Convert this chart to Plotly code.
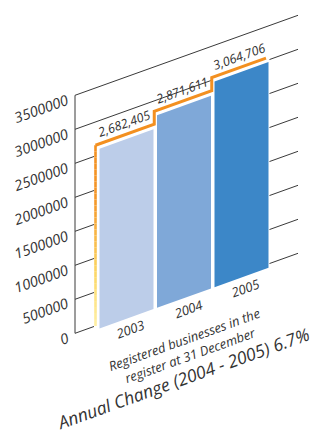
import plotly.graph_objects as go

# ---------------- data ----------------
years = ["2003", "2004", "2005"]
businesses = [2682405, 2871611, 3064706]
value_labels = ["2,682,405", "2,871,611", "3,064,706"]
tick_values = [0, 500000, 1000000, 1500000, 2000000, 2500000, 3000000, 3500000]
tick_labels = ["0", "500000", "1000000", "1500000", "2000000", "2500000", "3000000", "3500000"]
bar_colors = ["#bccde9", "#7fa8d8", "#3c87c8"]
subtitle = "Registered businesses in the<br>register at 31 December"
title = "Annual Change (2004 - 2005) 6.7%"

# ---------------- geometry / style ----------------
W, H = 327, 434
PX_PER_UNIT = 68 / 1e6          # vertical pixels per business
AXIS_X = 75                     # x of value axis
ZERO_Y = 333.3                  # screen y of 0 at the axis
SLOPE = 0.3587                  # skew of the pseudo-3D plane
SHEAR = SLOPE / PX_PER_UNIT
ANGLE = -19.8
GRID_END = 298
BAR_X0, BAR_STEP, BAR_W = 99.5, 57.5, 54
BASE = -0.057e6
TOP_OFF = -0.097e6
ORANGE_OFF = -0.025e6
ORANGE = "#f39020"
TXT = "#333333"
FONT = "Open Sans"


def sy(v, x):
    return v + SHEAR * (x - AXIS_X)


fig = go.Figure()

# gridlines
gx, gy = [], []
for t in tick_values:
    gx += [AXIS_X, GRID_END, None]
    gy += [sy(t, AXIS_X), sy(t, GRID_END), None]
fig.add_trace(go.Scatter(x=gx, y=gy, mode="lines", line=dict(color="#3a3a3a", width=1), hoverinfo="skip"))
# axis line
fig.add_trace(go.Scatter(x=[AXIS_X, AXIS_X], y=[tick_values[0], tick_values[-1]], mode="lines",
                         line=dict(color="#3a3a3a", width=1), hoverinfo="skip"))

# bar positions
xl = [BAR_X0 + i * BAR_STEP for i in range(len(years))]
xr = [x + BAR_W for x in xl]
ox0 = xl[0] - 4
steps = [(xr[i] + xl[i + 1]) / 2 - 1 for i in range(len(years) - 1)]
oend = xr[-1] - 2.5
tops = [v + ORANGE_OFF for v in businesses]

# white backing (hides gridlines behind the block)
bx = [ox0 - 1.5, steps[0], steps[0], steps[1], steps[1], xr[-1] + 1, xr[-1] + 1, ox0 - 1.5]
bv = [tops[0], tops[0], tops[1], tops[1], tops[2], tops[2], BASE, BASE]
bv = [v + (0.03e6 if i < 6 else 0) for i, v in enumerate(bv)]
fig.add_trace(go.Scatter(x=bx, y=[sy(v, x) for v, x in zip(bv, bx)], fill="toself", mode="lines",
                         fillcolor="white", line=dict(width=0, color="white"), hoverinfo="skip"))

# bars
for i, v in enumerate(businesses):
    px = [xl[i], xr[i], xr[i], xl[i], xl[i]]
    pv = [BASE, BASE, v + TOP_OFF, v + TOP_OFF, BASE]
    fig.add_trace(go.Scatter(x=px, y=[sy(a, b) for a, b in zip(pv, px)], fill="toself", mode="lines",
                             fillcolor=bar_colors[i], line=dict(width=0, color=bar_colors[i]),
                             hoverinfo="skip", name=years[i]))

# left orange edge with gradient to pale yellow
N = 30
top_v, bot_v = tops[0], 0.0
stops = [(0.0, (243, 144, 32)), (0.3, (244, 150, 40)), (0.7, (252, 215, 100)), (1.0, (255, 240, 165))]


def grad(f):
    for (fa, ca), (fb, cb) in zip(stops[:-1], stops[1:]):
        if f <= fb:
            g = (f - fa) / (fb - fa)
            return tuple(round(ca[j] + (cb[j] - ca[j]) * g) for j in range(3))
    return stops[-1][1]


for k in range(N):
    f0, f1 = k / N, (k + 1) / N
    col = "rgb(%d,%d,%d)" % grad((f0 + f1) / 2)
    va = top_v + (bot_v - top_v) * f0
    vb = top_v + (bot_v - top_v) * f1
    fig.add_trace(go.Scatter(x=[ox0, ox0], y=[sy(va, ox0), sy(vb, ox0)], mode="lines",
                             line=dict(color=col, width=2.6), hoverinfo="skip"))

# orange step line on top
ox = [ox0, steps[0], steps[0], steps[1], steps[1], oend]
ov = [tops[0], tops[0], tops[1], tops[1], tops[2], tops[2]]
fig.add_trace(go.Scatter(x=ox, y=[sy(v, x) for v, x in zip(ov, ox)], mode="lines",
                         line=dict(color=ORANGE, width=3), hoverinfo="skip"))

ann = []
# tick labels
for t, lab in zip(tick_values, tick_labels):
    ann.append(dict(x=AXIS_X, y=t, text=lab, xanchor="right", yanchor="top", xshift=-1.5, yshift=8,
                    textangle=ANGLE, showarrow=False,
                    font=dict(size=14.5, color=TXT, family=FONT, style="italic")))
# category labels
for i, yr in enumerate(years):
    cx = (xl[i] + xr[i]) / 2 + 4
    ann.append(dict(x=cx, y=sy(BASE, cx), text=yr, xanchor="center", yanchor="middle", yshift=-12,
                    textangle=ANGLE, showarrow=False,
                    font=dict(size=13, color=TXT, family=FONT, style="italic")))
# value labels
for i, lab in enumerate(value_labels):
    cx = (xl[i] + xr[i]) / 2 - 2
    ann.append(dict(x=cx, y=sy(tops[i], cx), text=lab, xanchor="center", yanchor="middle", yshift=11,
                    textangle=ANGLE, showarrow=False,
                    font=dict(size=12.5, color=TXT, family=FONT, style="italic")))
# subtitle & title
ann.append(dict(x=187 / W, y=1 - 347 / H, xref="paper", yref="paper", text=subtitle,
                xanchor="center", yanchor="middle", textangle=ANGLE, showarrow=False,
                font=dict(size=13, color=TXT, family=FONT, style="italic")))
ann.append(dict(x=183 / W, y=1 - 378.3 / H, xref="paper", yref="paper", text=title,
                xanchor="center", yanchor="middle", textangle=ANGLE, showarrow=False,
                font=dict(size=17.5, color=TXT, family=FONT, style="italic")))

fig.update_layout(
    width=W, height=H, margin=dict(l=0, r=0, t=0, b=0),
    paper_bgcolor="white", plot_bgcolor="white", showlegend=False,
    xaxis=dict(range=[0, W], visible=False, fixedrange=True),
    yaxis=dict(range=[(ZERO_Y - H) / PX_PER_UNIT, ZERO_Y / PX_PER_UNIT], visible=False, fixedrange=True),
    annotations=ann,
)
fig.write_html("out.html")
